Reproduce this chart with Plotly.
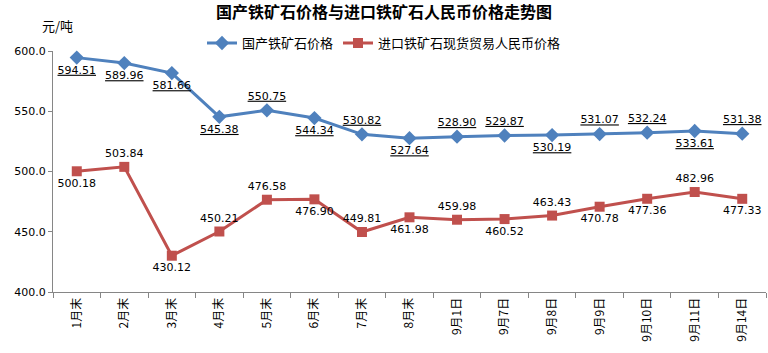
import plotly.graph_objects as go

categories = ["1月末", "2月末", "3月末", "4月末", "5月末", "6月末", "7月末", "8月末",
              "9月1日", "9月7日", "9月8日", "9月9日", "9月10日", "9月11日", "9月14日"]
domestic = [594.51, 589.96, 581.66, 545.38, 550.75, 544.34, 530.82, 527.64,
            528.90, 529.87, 530.19, 531.07, 532.24, 533.61, 531.38]
imported = [500.18, 503.84, 430.12, 450.21, 476.58, 476.90, 449.81, 461.98,
            459.98, 460.52, 463.43, 470.78, 477.36, 482.96, 477.33]
domestic_pos = ["bottom center", "bottom center", "bottom center", "bottom center", "top center",
                "bottom center", "top center", "bottom center", "top center", "top center",
                "bottom center", "top center", "top center", "bottom center", "top center"]
imported_pos = ["bottom center", "top center", "bottom center", "top center", "top center",
                "bottom center", "top center", "bottom center", "top center", "bottom center",
                "top center", "bottom center", "bottom center", "top center", "bottom center"]
y_ticks = [400, 450, 500, 550, 600]

blue = "#4F81BD"
red = "#C0504D"
num_font = dict(family="DejaVu Sans, Verdana, sans-serif", size=11, color="#000000")
cjk = "Noto Sans CJK SC, sans-serif"

fig = go.Figure()
fig.add_trace(go.Scatter(
    x=categories, y=domestic, mode="lines+markers+text", name="国产铁矿石价格",
    line=dict(color=blue, width=3), marker=dict(symbol="diamond", size=11, color=blue),
    text=["<u>%.2f</u>" % v for v in domestic], textposition=domestic_pos,
    textfont=num_font, cliponaxis=False))
fig.add_trace(go.Scatter(
    x=categories, y=imported, mode="lines+markers+text", name="进口铁矿石现货贸易人民币价格",
    line=dict(color=red, width=3), marker=dict(symbol="square", size=10, color=red),
    text=["%.2f" % v for v in imported], textposition=imported_pos,
    textfont=num_font, cliponaxis=False))

fig.update_layout(
    width=768, height=353,
    margin=dict(l=53, r=2, t=51, b=61, autoexpand=False),
    paper_bgcolor="white", plot_bgcolor="white",
    title=dict(text="<b>国产铁矿石价格与进口铁矿石人民币价格走势图</b>",
               x=0.5, xref="container", xanchor="center", y=0.965, yanchor="middle",
               font=dict(family=cjk, size=16, color="#000000")),
    legend=dict(orientation="h", x=0.5, xref="container", xanchor="center",
                y=1.033, yref="paper", yanchor="middle",
                font=dict(family=cjk, size=13, color="#000000"),
                bgcolor="rgba(0,0,0,0)", itemwidth=30, tracegroupgap=0),
    showlegend=True,
    annotations=[dict(text="元/吨", xref="paper", yref="paper", x=0.006, y=1.104,
                      xanchor="center", yanchor="middle", showarrow=False,
                      font=dict(family=cjk, size=13, color="#000000"))],
)
fig.update_xaxes(
    type="category", showgrid=False, showline=True, linecolor="#868686", linewidth=1,
    ticks="outside", ticklen=5, tickcolor="#868686", tickson="boundaries",
    tickangle=-90, tickfont=dict(family=cjk, size=12, color="#000000"),
    range=[-0.5, len(categories) - 0.5], automargin=False)
fig.update_yaxes(
    range=[400, 600], tickvals=y_ticks, ticktext=["%.1f" % v for v in y_ticks],
    showgrid=False, showline=True, linecolor="#868686", linewidth=1,
    ticks="outside", ticklen=4, tickcolor="#868686", zeroline=False,
    tickfont=num_font, automargin=False)

fig.write_html("out.html")
